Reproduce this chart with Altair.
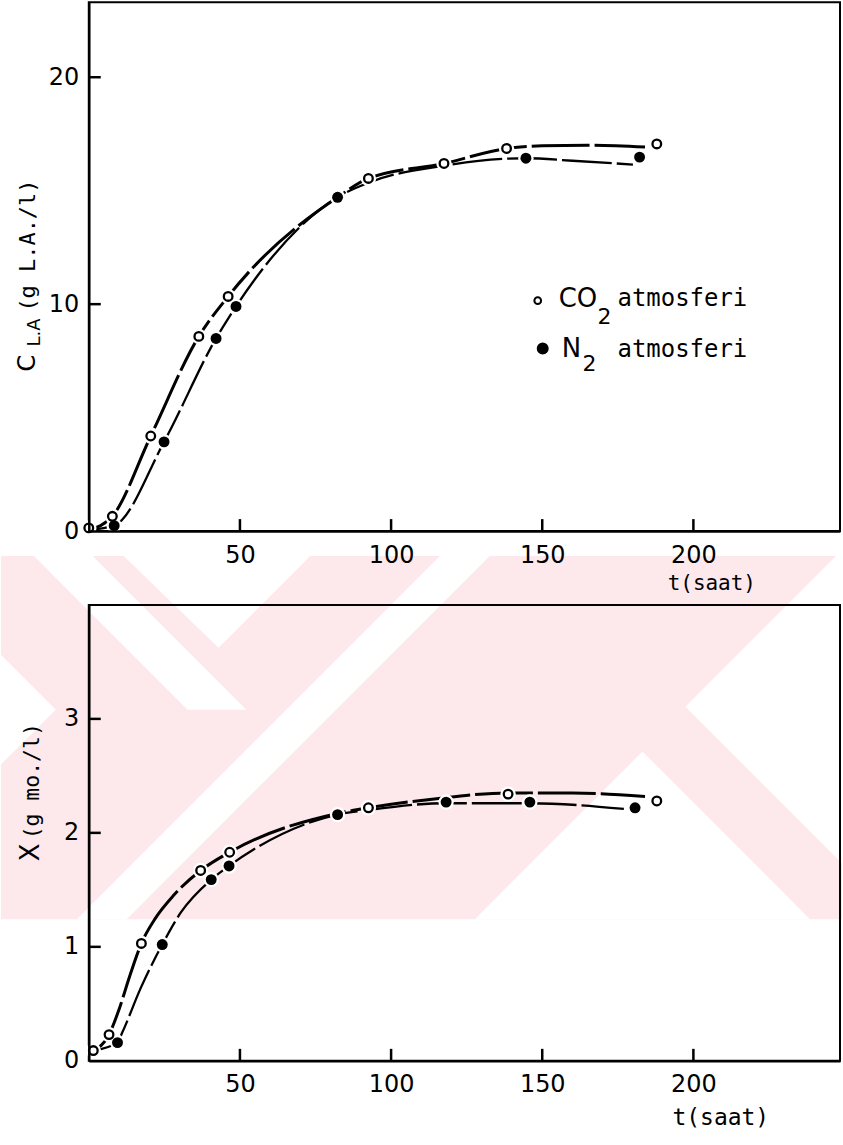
import altair as alt
import pandas as pd

# ---------------- data ----------------
# Top panel: C_LA (g L.A./l) versus t (saat)
top_co2_t = [0.0, 7.8, 20.5, 36.4, 46.1, 92.5, 117.5, 138.2, 187.9]
top_co2_c = [0.14, 0.65, 4.19, 8.58, 10.34, 15.54, 16.2, 16.86, 17.06]
top_n2_t = [8.4, 24.9, 42.1, 48.7, 82.3, 144.6, 182.2]
top_n2_c = [0.24, 3.93, 8.49, 9.9, 14.71, 16.43, 16.48]
# hand-drawn curves
top_co2_curve_t = [0.0, 7.8, 20.5, 36.4, 46.1, 82.3, 92.5, 117.5, 138.2, 150.0, 165.0, 184.0]
top_co2_curve_c = [0.05, 0.65, 4.19, 8.58, 10.34, 14.71, 15.54, 16.2, 16.86, 16.98, 17.0, 16.92]
top_n2_curve_t = [0.0, 8.4, 24.9, 42.1, 48.7, 82.3, 92.5, 117.5, 144.6, 160.0, 180.0]
top_n2_curve_c = [0.05, 0.24, 3.93, 8.49, 9.9, 14.71, 15.35, 16.1, 16.43, 16.32, 16.15]

# Bottom panel: X (g mo./l) versus t (saat)
bot_co2_t = [1.5, 6.7, 17.4, 37.0, 46.6, 92.5, 138.7, 187.9]
bot_co2_x = [0.09, 0.23, 1.03, 1.67, 1.83, 2.22, 2.34, 2.28]
bot_n2_t = [9.5, 24.3, 40.5, 46.4, 82.3, 118.2, 145.9, 180.7]
bot_n2_x = [0.16, 1.02, 1.59, 1.71, 2.16, 2.27, 2.27, 2.22]
bot_co2_curve_t = [1.5, 6.7, 10.0, 13.5, 17.4, 22.0, 28.0, 37.0, 46.6, 82.3, 92.5, 115.0, 138.7, 160.0, 184.0]
bot_co2_curve_x = [0.09, 0.23, 0.45, 0.74, 1.03, 1.25, 1.45, 1.67, 1.83, 2.17, 2.22, 2.30, 2.35, 2.35, 2.32]
bot_n2_curve_t = [1.5, 9.5, 11.1, 17.2, 24.3, 30.4, 40.5, 46.4, 82.3, 92.5, 118.2, 145.9, 177.0]
bot_n2_curve_x = [0.09, 0.16, 0.25, 0.64, 1.02, 1.30, 1.59, 1.71, 2.16, 2.20, 2.26, 2.26, 2.21]

x_tick_values = [50, 100, 150, 200]
top_y_tick_values = [10, 20]
top_y_label_values = [0, 10, 20]
bot_y_tick_values = [1, 2, 3]
bot_y_label_values = [0, 1, 2, 3]

# background watermark: pink band with white diagonal cut-outs (page pixels)
wm_band_rows = [(556, 0, 843), (920, 0, 843)]
wm_white_shapes = {
    "v1": [(556, 123, 310), (648, 218, 218)],
    "l2": [(752, 643, 643), (920, 475, 811)],
    "rw": [(556, 837, 843), (707, 686, 843), (864, 843, 843)],
    "sb": [(556, 440, 490), (920, 76, 126)],
    "sc": [(556, 33, 92), (710, 187, 246)],
    "lw": [(655, 0, 0), (710, 0, 55), (765, 0, 0)],
}

# ---------------- layout ----------------
PLOT_W = 753
TOP_H = 530
BOT_H = 457
LEFT = 88
TOP_Y0 = 1
INK = "black"
PINK = "#fde8ec"

xs = alt.Scale(domain=[0, 248.5], nice=False, zero=False)
ys_top = alt.Scale(domain=[0, 23.3], nice=False, zero=False)
ys_bot = alt.Scale(domain=[0, 4.0], nice=False, zero=False)


def x_axis(title_x, title_y, title_size):
    return alt.Axis(values=x_tick_values, ticks=False, grid=False, domainColor=INK,
                    domainWidth=2.5, labelFont="DejaVu Sans", labelFontSize=24,
                    labelColor=INK, labelPadding=12, labelFlush=False, labelOverlap=False,
                    title="t(saat)", titleFont="DejaVu Sans Mono", titleFontSize=title_size,
                    titleFontWeight="normal", titleColor=INK, titleX=title_x, titleY=title_y,
                    titleAlign="center", titleBaseline="middle", zindex=1)


def y_axis(values):
    return alt.Axis(values=values, ticks=False, grid=False, domainColor=INK, domainWidth=2.5,
                    labelFont="DejaVu Sans", labelFontSize=24, labelColor=INK, labelPadding=10,
                    labelFlush=False, labelOverlap=False, title=None, zindex=1)


def series_df(t, v):
    return pd.DataFrame({"t": t, "v": v})


def text(txt, x, y, size, font="DejaVu Sans", angle=0):
    return alt.Chart(pd.DataFrame({"k": [0]})).mark_text(
        text=txt, font=font, fontSize=size, angle=angle, align="left",
        baseline="alphabetic", color=INK).encode(x=alt.value(x), y=alt.value(y))


def symbol(x, y, filled, size):
    return alt.Chart(pd.DataFrame({"k": [0]})).mark_point(
        shape="circle", filled=filled, size=size, fill=INK if filled else "white",
        stroke=INK, strokeWidth=2, opacity=1).encode(x=alt.value(x), y=alt.value(y))


def shape_layer(shapes, color):
    rows = []
    for name, pts in shapes.items():
        for (yy, xl, xr) in pts:
            rows.append({"s": name, "wy": yy - TOP_Y0, "wx": xl - LEFT, "wx2": xr - LEFT})
    return alt.Chart(pd.DataFrame(rows)).mark_area(
        orient="horizontal", color=color, opacity=1).encode(
        y=alt.Y("wy:Q", scale=None, axis=None),
        x=alt.X("wx:Q", scale=None, axis=None),
        x2="wx2:Q",
        detail="s:N")


def panel(co2_t, co2_v, n2_t, n2_v, co2_ct, co2_cv, n2_ct, n2_cv, ys, H,
          y_tick_vals, y_label_vals, xax, extra):
    X = lambda f: alt.X(f, type="quantitative", scale=xs, axis=xax)
    Y = lambda f: alt.Y(f, type="quantitative", scale=ys, axis=y_axis(y_label_vals))
    co2_pts = series_df(co2_t, co2_v)
    n2_pts = series_df(n2_t, n2_v)
    all_pts = pd.concat([co2_pts, n2_pts])
    co2_line = alt.Chart(series_df(co2_ct, co2_cv)).mark_line(
        interpolate="monotone", color=INK, strokeWidth=3, strokeDash=[58, 5],
        strokeCap="butt").encode(x=X("t"), y=Y("v"))
    n2_line = alt.Chart(series_df(n2_ct, n2_cv)).mark_line(
        interpolate="monotone", color=INK, strokeWidth=2.3, strokeDash=[50, 5],
        strokeCap="butt").encode(x=X("t"), y=Y("v"))
    halos = alt.Chart(all_pts).mark_point(
        shape="circle", filled=True, color="white", size=240, opacity=1).encode(
        x=X("t"), y=Y("v"))
    open_pts = alt.Chart(co2_pts).mark_point(
        shape="circle", filled=True, fill="white", stroke=INK, strokeWidth=2.3,
        size=75, opacity=1).encode(x=X("t"), y=Y("v"))
    filled_pts = alt.Chart(n2_pts).mark_point(
        shape="circle", filled=True, color=INK, size=120, opacity=1).encode(
        x=X("t"), y=Y("v"))
    xt = alt.Chart(pd.DataFrame({"t": x_tick_values})).mark_rule(
        color=INK, strokeWidth=2.5).encode(x=X("t"), y=alt.value(H), y2=alt.value(H - 12))
    yt = alt.Chart(pd.DataFrame({"v": y_tick_vals})).mark_rule(
        color=INK, strokeWidth=2.5).encode(y=Y("v"), x=alt.value(0), x2=alt.value(12))
    layers = extra[0] + [co2_line, n2_line, halos, open_pts, filled_pts, xt, yt] + extra[1]
    return alt.layer(*layers).properties(width=PLOT_W, height=H)


# ---- annotations (pixel positions relative to each plot) ----
top_texts = [
    text("C", -54, 370, 24, angle=270),
    text("L.A", -49, 345, 18, angle=270),
    text("(g L.A./l)", -54, 310, 22, font="DejaVu Sans Mono", angle=270),
    symbol(450, 299, False, 45),
    text("CO", 471, 305, 26),
    text("2", 510, 322, 22),
    text("atmosferi", 530, 304, 24, font="DejaVu Sans Mono"),
    symbol(455, 347, True, 100),
    text("N", 474, 356, 26),
    text("2", 495, 370, 22),
    text("atmosferi", 530, 356, 24, font="DejaVu Sans Mono"),
]

bot_texts = [
    text("X", -50, 257, 26, angle=270),
    text("(g mo./l)", -50, 235, 21.5, font="DejaVu Sans Mono", angle=270),
]

watermark = [shape_layer({"band": wm_band_rows}, PINK), shape_layer(wm_white_shapes, "white")]

top = panel(top_co2_t, top_co2_c, top_n2_t, top_n2_c,
            top_co2_curve_t, top_co2_curve_c, top_n2_curve_t, top_n2_curve_c,
            ys_top, TOP_H, top_y_tick_values, top_y_label_values,
            x_axis(624, 53, 21), (watermark, top_texts))

bottom = panel(bot_co2_t, bot_co2_x, bot_n2_t, bot_n2_x,
               bot_co2_curve_t, bot_co2_curve_x, bot_n2_curve_t, bot_n2_curve_x,
               ys_bot, BOT_H, bot_y_tick_values, bot_y_label_values,
               x_axis(633, 57, 23), ([], bot_texts))

chart = alt.vconcat(top, bottom, spacing=74, bounds="flush").configure_view(
    stroke=INK, strokeWidth=2).properties(
    padding={"left": 0, "top": 0, "right": 0, "bottom": 0}, background="white")

chart.save("out.html", embed_options={"renderer": "svg", "actions": False})
